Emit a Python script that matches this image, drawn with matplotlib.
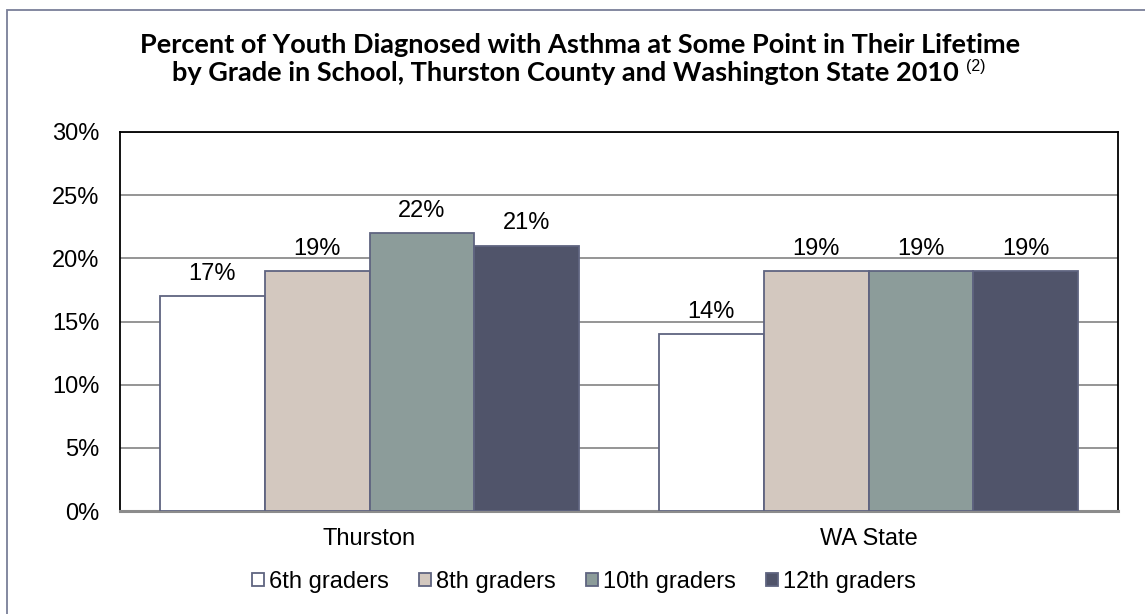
import numpy as np
import matplotlib.pyplot as plt
from matplotlib.patches import Rectangle

# ---------------------------------------------------------
# DATA
# ---------------------------------------------------------
regions = ["Thurston", "WA State"]
grades = ["6th graders", "8th graders", "10th graders", "12th graders"]
values = {
    "6th graders": [17, 14],
    "8th graders": [19, 19],
    "10th graders": [22, 19],
    "12th graders": [21, 19],
}
colors = ["#ffffff", "#d3c8bf", "#8c9c9a", "#50546a"]
edge = "#5f6480"

plt.rcParams["font.family"] = ["Liberation Sans", "DejaVu Sans"]

W, H = 1145, 614
fig = plt.figure(figsize=(W / 100, H / 100), dpi=100)
ax = fig.add_axes([120 / W, 1 - 511 / H, 998 / W, 379 / H])

# outer frame of the chart
fig.patches.append(Rectangle((7 / W, -0.05), 1.2, 1 - 10 / H + 0.05,
                             transform=fig.transFigure, fill=False,
                             edgecolor="#7a7f98", linewidth=1.3))

x = np.arange(len(regions))
w = 0.21
for i, g in enumerate(grades):
    pos = x + (i - 1.5) * w
    bars = ax.bar(pos, values[g], width=w, color=colors[i], edgecolor=edge,
                  linewidth=1.3, label=g, zorder=3)
    for b, v in zip(bars, values[g]):
        ax.text(b.get_x() + b.get_width() / 2, v + 0.9, f"{v}%",
                ha="center", va="bottom", fontsize=17, color="#000000")

ax.set_xlim(-0.5, 1.5)
ax.set_ylim(0, 30)
ax.set_yticks(range(0, 31, 5))
ax.set_yticklabels([f"{t}%" for t in range(0, 31, 5)], fontsize=17)
ax.set_xticks(x)
ax.set_xticklabels(regions, fontsize=17)
ax.tick_params(axis="both", length=0)
ax.tick_params(axis="x", pad=12)
ax.tick_params(axis="y", pad=15)
ax.yaxis.grid(True, color="#8c8c8c", linewidth=1.3, zorder=0)
for s in ["top", "left", "right"]:
    ax.spines[s].set_color("#000000")
    ax.spines[s].set_linewidth(1.3)
ax.spines["bottom"].set_color("#8c8c8c")
ax.spines["bottom"].set_linewidth(2.2)

# title (two lines, superscript note after line 2)
tfont = ["Lato", "DejaVu Sans"]
fig.text(580 / W, 1 - 45 / H,
         "Percent of Youth Diagnosed with Asthma at Some Point in Their Lifetime",
         ha="center", va="center", fontsize=19.5, fontweight="bold", family=tfont)
t2 = fig.text(565 / W, 1 - 73 / H,
              "by Grade in School, Thurston County and Washington State 2010",
              ha="center", va="center", fontsize=19.5, fontweight="bold",
              family=tfont)
fig.canvas.draw()
bb = t2.get_window_extent()
fig.text((bb.x1 + 8) / W, 1 - 66 / H, "(2)", ha="left", va="center",
         fontsize=11.5, family=["Liberation Sans", "DejaVu Sans"])

fig.legend(loc="center", bbox_to_anchor=(584 / W, 1 - 582 / H), ncol=4,
           frameon=False, fontsize=17, handlelength=0.5, handleheight=0.5,
           handletextpad=0.2, columnspacing=1.3)

fig.savefig("out.png", dpi=100)
